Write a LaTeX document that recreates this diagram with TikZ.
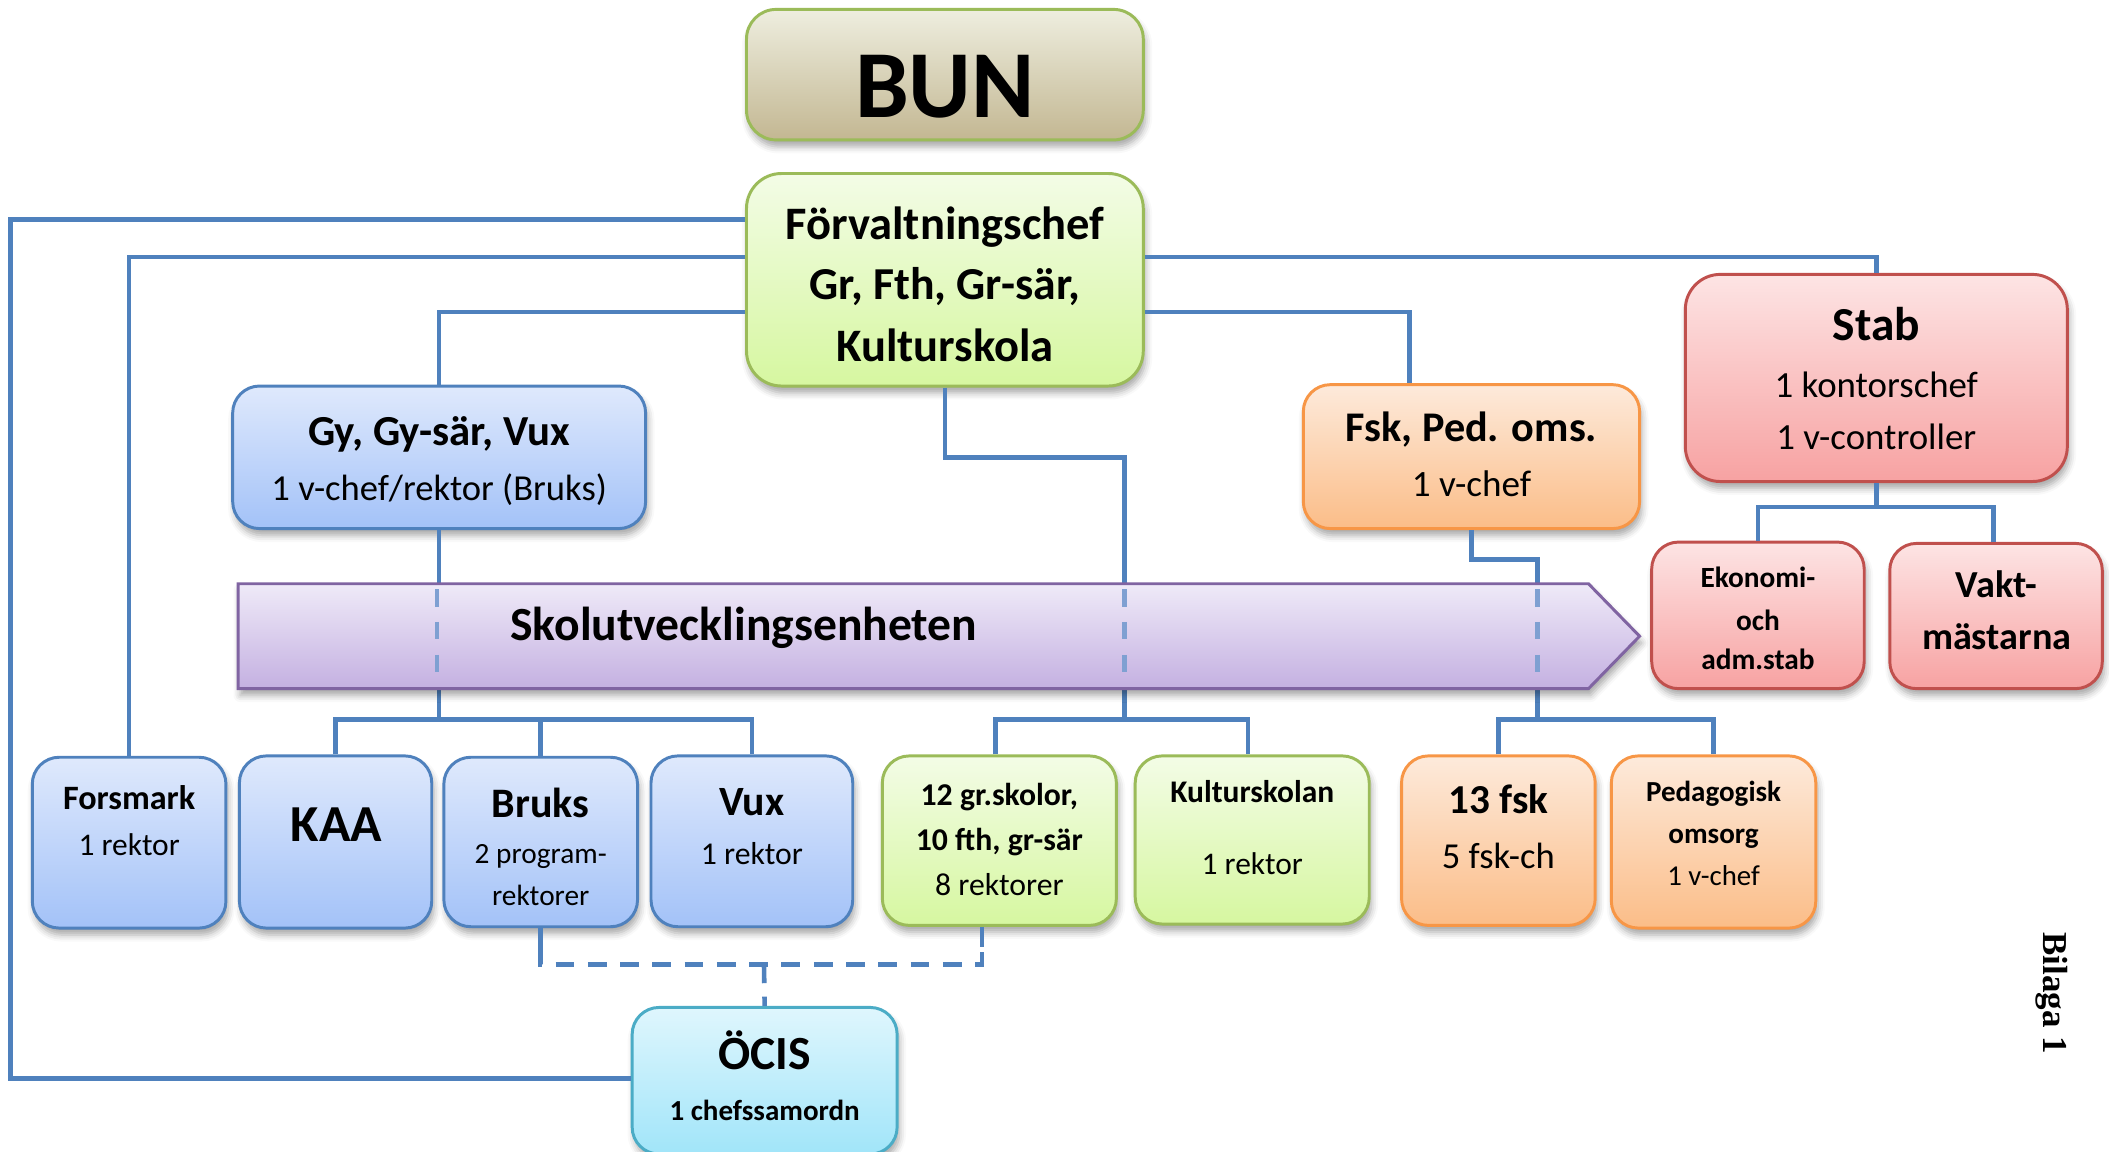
\documentclass[tikz,border=0pt]{standalone}
\usepackage{fontspec}
\setmainfont{Carlito}
\newfontfamily\serifbil{Liberation Serif}
\usetikzlibrary{shadows.blur}
\newcommand\fsz[1]{\fontsize{#1}{#1}\selectfont}
\definecolor{ln}{HTML}{4F81BD}
\definecolor{lnlight}{HTML}{7FA0D2}
\definecolor{bbd}{HTML}{4F81BD}\definecolor{bbt}{HTML}{DFE9FC}\definecolor{bbb}{HTML}{A3C2F8}
\definecolor{gbd}{HTML}{9BBB59}\definecolor{gbt}{HTML}{F3FCE6}\definecolor{gbb}{HTML}{D6F7A0}
\definecolor{kbt}{HTML}{EEEEDF}\definecolor{kbb}{HTML}{C3B792}
\definecolor{obd}{HTML}{F79646}\definecolor{obt}{HTML}{FDEADB}\definecolor{obb}{HTML}{FBBD88}
\definecolor{rbd}{HTML}{C0504D}\definecolor{rbt}{HTML}{FDE4E4}\definecolor{rbb}{HTML}{F7A2A2}
\definecolor{pbd}{HTML}{8064A2}\definecolor{pbt}{HTML}{EFEAF8}\definecolor{pbb}{HTML}{C4B0E1}
\definecolor{cbd}{HTML}{4BACC6}\definecolor{cbt}{HTML}{DFF6FD}\definecolor{cbb}{HTML}{A1E5F9}
\begin{document}
\begin{tikzpicture}[x=0.5pt,y=-0.5pt,
  conn/.style={draw=ln, line width=1.7pt},
  dconn/.style={draw=ln, line width=1.7pt, dash pattern=on 7pt off 5pt},
  inconn/.style={draw=lnlight, line width=1.7pt, dash pattern=on 6.5pt off 5.7pt},
  obox/.style={rounded corners=10pt, line width=1.1pt, inner sep=0pt,
    blur shadow={shadow xshift=0.8pt, shadow yshift=-2.5pt, shadow blur radius=2.5pt, shadow opacity=35}},
  bluebox/.style={obox, draw=bbd, top color=bbt, bottom color=bbb},
  greenbox/.style={obox, draw=gbd, top color=gbt, bottom color=gbb},
  khakibox/.style={obox, draw=gbd, top color=kbt, bottom color=kbb},
  orangebox/.style={obox, draw=obd, top color=obt, bottom color=obb},
  redbox/.style={obox, draw=rbd, top color=rbt, bottom color=rbb},
  cyanbox/.style={obox, draw=cbd, top color=cbt, bottom color=cbb},
  tb/.style={anchor=base, inner sep=0pt, font=\bfseries\fsz{#1}},
  tr/.style={anchor=base, inner sep=0pt, font=\fsz{#1}}
]
\useasboundingbox (0,0) rectangle (1568,856);
\clip (0,0) rectangle (1568,856);

% ---- boxes ----
\node[khakibox, rounded corners=11pt, minimum width=147.5pt, minimum height=48.5pt] (bun) at (702.5,55.5) {};
\node[greenbox, rounded corners=13pt, minimum width=147.5pt, minimum height=79pt] (forv) at (702.5,208) {};
\node[bluebox, minimum width=153.5pt, minimum height=53pt] (gy) at (326.5,340) {};
\node[orangebox, minimum width=125pt, minimum height=53.5pt] (fsk) at (1094,339.5) {};
\node[redbox, rounded corners=13pt, minimum width=142pt, minimum height=77pt] (stab) at (1395,281) {};
\node[redbox, minimum width=79pt, minimum height=54.5pt] (eko) at (1307,457.5) {};
\node[redbox, minimum width=79pt, minimum height=54pt] (vakt) at (1484,458) {};
\node[bluebox, minimum width=72pt, minimum height=63.5pt] (forsmark) at (96,626.5) {};
\node[bluebox, minimum width=71.5pt, minimum height=64pt] (kaa) at (249.5,626) {};
\node[bluebox, minimum width=72pt, minimum height=63pt] (bruks) at (402,626) {};
\node[bluebox, minimum width=75pt, minimum height=63.5pt] (vux) at (559,625.5) {};
\node[greenbox, minimum width=87pt, minimum height=63pt] (gr) at (743,625) {};
\node[greenbox, minimum width=87pt, minimum height=62.5pt] (kult) at (931,624.5) {};
\node[orangebox, minimum width=72pt, minimum height=63pt] (fsk13) at (1114,625) {};
\node[orangebox, minimum width=76pt, minimum height=64pt] (ped) at (1274,626) {};
\node[cyanbox, minimum width=98.5pt, minimum height=54.5pt] (ocis) at (568.5,803.5) {};

% ---- connectors (behind the arrow) ----
\draw[conn] (forv.west |- 0,163) -| (8,802) -- (ocis.west |- 0,802);
\draw[conn] (forv.west |- 0,191) -| (forsmark.north);
\draw[conn] (forv.west |- 0,232) -| (gy.north);
\draw[conn] (forv.east |- 0,191) -| (stab.north);
\draw[conn] (forv.east |- 0,232) -| (1048,0 |- fsk.north);
\draw[conn] (forv.south) |- (836,340) -- (836,536);
\draw[conn] (gy.south) -- (gy.south |- 0,536);
\draw[conn] (fsk.south) |- (1143,416) -- (1143,536);
\draw[conn] (kaa.north) -- ++(0,-26) -| (vux.north);
\draw[conn] (bruks.north) -- ++(0,-27);
\draw[conn] (740,0 |- gr.north) -- ++(0,-26) -| (928,0 |- kult.north);
\draw[conn] (fsk13.north) -- ++(0,-26) -| (ped.north);
\draw[conn] (stab.south) -- (stab.south |- 0,378);
\draw[conn] (eko.north) -- ++(0,-25) -| (1482,0 |- vakt.north);
\draw[conn] (bruks.south) -- (402,704);
\draw[conn] (730,0 |- gr.south) -- (730,704);
\draw[dconn] (402,704) |- (730,717) -- (730,704);
\draw[dconn] (568,717) -- (ocis.north);

% ---- Skolutvecklingsenheten arrow ----
\path[draw=pbd, line width=1.1pt, top color=pbt, bottom color=pbb,
  blur shadow={shadow xshift=0.8pt, shadow yshift=-2.5pt, shadow blur radius=2.5pt, shadow opacity=35}]
  (177,434) -- (1181,434) -- (1219,473) -- (1181,512) -- (177,512) -- cycle;
\draw[inconn] (325,438) -- (325,506);
\draw[inconn] (836,438) -- (836,506);
\draw[inconn] (1143,438) -- (1143,506);
\node[tb=17.7] (tsue) at (553,476) {Skolutvecklingsenheten};

% ---- texts ----
\node[tb=35.7] (tbun) at (702.5,87) {BUN};
\node[tb=17.3] (tf1) at (702.5,178.4) {Förvaltningschef};
\node[tb=17] (tf2) at (702.5,223) {Gr, Fth, Gr-sär,};
\node[tb=17.3] (tf3) at (702.5,269) {Kulturskola};
\node[tb=15.9] (tgy1) at (326.5,331) {Gy, Gy-sär, Vux};
\node[tr=13.6] (tgy2) at (326.5,372) {1 v-chef/rektor (Bruks)};
\node[tb=15.7] (tfsk1) at (1094,328.5) {Fsk, Ped. oms.};
\node[tr=13.8] (tfsk2) at (1094,369.5) {1 v-chef};
\node[tb=17.6] (tst1) at (1395,253.5) {Stab};
\node[tr=13.7] (tst2) at (1395,295.5) {1 kontorschef};
\node[tr=13.7] (tst3) at (1395,334) {1 v-controller};
\node[tb=10.9] (tek1) at (1307,437) {Ekonomi-};
\node[tb=10.9] (tek2) at (1307,468.5) {och};
\node[tb=10.9] (tek3) at (1307,498) {adm.stab};
\node[tb=14.2] (tva1) at (1484.5,444) {Vakt-};
\node[tb=14.2] (tva2) at (1484.5,483) {mästarna};
\node[tb=12.7] (tfo1) at (96,602) {Forsmark};
\node[tr=11.7] (tfo2) at (96,636) {1 rektor};
\node[tb=19.3] (tkaa) at (250,626) {KAA};
\node[tb=15.6] (tbr1) at (402,608) {Bruks};
\node[tr=10.9] (tbr2) at (402,642) {2 program-};
\node[tr=10.9] (tbr3) at (402,673) {rektorer};
\node[tb=15.5] (tvu1) at (559,606) {Vux};
\node[tr=11.8] (tvu2) at (559,643) {1 rektor};
\node[tb=11.8] (tgr1) at (743,598.5) {12 gr.skolor,};
\node[tb=11.8] (tgr2) at (743,632) {10 fth, gr-sär};
\node[tr=11.8] (tgr3) at (743,665.5) {8 rektorer};
\node[tb=11.7] (tku1) at (931,597) {Kulturskolan};
\node[tr=11.7] (tku2) at (931,650.5) {1 rektor};
\node[tb=15.3] (tfs1) at (1114,604.7) {13 fsk};
\node[tr=13.6] (tfs2) at (1114,645.5) {5 fsk-ch};
\node[tb=10.8] (tpe1) at (1274,596) {Pedagogisk};
\node[tb=10.8] (tpe2) at (1274,627) {omsorg};
\node[tr=10.7] (tpe3) at (1274,658) {1 v-chef};
\node[tb=17.7] (toc1) at (568.5,795.5) {ÖCIS};
\node[tb=10.8] (toc2) at (568.5,833) {1 chefssamordn};
\node[anchor=base, inner sep=0pt, rotate=-90, font=\serifbil\bfseries\fsz{13}] (tbil) at (1519,738.5) {Bilaga 1};
\end{tikzpicture}
\end{document}
